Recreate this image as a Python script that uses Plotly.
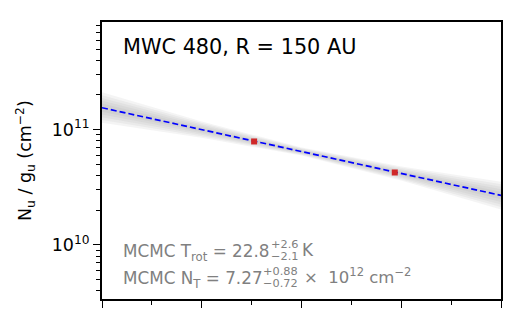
import numpy as np
import plotly.graph_objects as go

# ---- data ----
eu_points = [15.25, 29.35]            # upper-state energy (K)
nu_gu_points = [7.9e10, 4.25e10]      # N_u/g_u (cm^-2)

fit_E = [0, 40]
fit_N = [1.55e11, 2.69e10]

band_E = [0, 10, 20, 30, 40]
band_upper = [2.05e11, 1.16e11, 6.95e10, 4.72e10, 3.45e10]
band_lower = [1.18e11, 8.65e10, 6.0e10, 3.66e10, 2.08e10]

y_major = [1e10, 1e11]
y_major_text = ["10<sup>10</sup>", "10<sup>11</sup>"]
y_minor = [m * 10 ** e for e in (9, 10, 11) for m in range(2, 10)]
x_major = [0, 10, 20, 30, 40]
x_minor = [5, 15, 25, 35]

title_text = "MWC 480, R = 150 AU"

# ---- layout geometry ----
W, H = 524, 321
L, R, T, B = 102, 501, 22, 299
pw, ph = R - L, B - T

def px(x):
    return (x - L) / pw

def py(y):
    return (B - y) / ph

FONT = "DejaVu Sans"
GREY = "#808080"

fig = go.Figure()

# soft grey uncertainty band (stacked translucent layers)
up = np.array(band_upper)
lo = np.array(band_lower)
cen = np.sqrt(up * lo)
for f in [1.1, 0.9, 0.7, 0.5, 0.3]:
    u = cen * (up / cen) ** f
    l = cen * (lo / cen) ** f
    fig.add_trace(go.Scatter(
        x=list(band_E) + list(band_E)[::-1],
        y=list(u) + list(l)[::-1],
        fill="toself", mode="lines", line=dict(width=0),
        fillcolor="rgba(150,150,150,0.10)", hoverinfo="skip", showlegend=False))

fig.add_trace(go.Scatter(
    x=fit_E, y=fit_N, mode="lines",
    line=dict(color="#0000ff", width=1.7, dash="6px,3px"), showlegend=False))

fig.add_trace(go.Scatter(
    x=eu_points, y=nu_gu_points, mode="markers",
    marker=dict(symbol="square", size=6, color="#d02828"), showlegend=False))

fig.update_layout(
    width=W, height=H,
    margin=dict(l=L, r=W - R, t=T, b=H - B),
    paper_bgcolor="white", plot_bgcolor="white",
    font=dict(family=FONT, size=17, color="black"),
    showlegend=False,
)
fig.update_xaxes(
    range=[0, 40], tickvals=x_major, ticktext=[""] * len(x_major),
    ticks="outside", ticklen=7, tickwidth=1.3, tickcolor="black",
    minor=dict(tickvals=x_minor, ticks="outside", ticklen=4, tickwidth=1, tickcolor="black"),
    showline=True, linecolor="black", linewidth=1.8, mirror=True,
    showgrid=False, zeroline=False,
)
fig.update_yaxes(
    type="log", range=[np.log10(3.39e9), np.log10(8.6e11)],
    tickvals=y_major, ticktext=y_major_text,
    ticks="outside", ticklen=7, tickwidth=1.3, tickcolor="black",
    minor=dict(tickvals=y_minor, ticks="outside", ticklen=4, tickwidth=1, tickcolor="black"),
    showline=True, linecolor="black", linewidth=1.8, mirror=True,
    showgrid=False, zeroline=False,
    tickfont=dict(size=17.5),
)

ann = []
# y-axis title
ann.append(dict(xref="paper", yref="paper", x=px(25), y=py(161),
                text="N<sub>u</sub> / g<sub>u</sub> (cm<sup>−2</sup>)",
                textangle=-90, showarrow=False, xanchor="center", yanchor="middle",
                font=dict(family=FONT, size=17.5, color="black")))
# title inside
ann.append(dict(xref="paper", yref="paper", x=px(121), y=py(47.5),
                text=title_text, showarrow=False, xanchor="left", yanchor="middle",
                font=dict(family=FONT, size=20.8, color="black")))

def grey(text, x, y, size):
    ann.append(dict(xref="paper", yref="paper", x=px(x), y=py(y), text=text,
                    showarrow=False, xanchor="left", yanchor="middle", borderpad=0,
                    font=dict(family=FONT, size=size, color=GREY)))

# line 1
grey("MCMC T<sub>rot</sub> = 22.8", 121.5, 252, 16.8)
grey("+2.6", 269.5, 244, 11.3)
grey("−2.1", 269.5, 256, 11.3)
grey("K", 300.5, 250, 16.8)
# line 2
grey("MCMC N<sub>T</sub> = 7.27", 121.5, 279, 16.8)
grey("+0.88", 262, 271, 11.3)
grey("−0.72", 262, 283, 11.3)
grey("×  10<sup>12</sup> cm<sup>−2</sup>", 302.5, 275.5, 16.5)

fig.update_layout(annotations=ann)
fig.write_html("out.html")
